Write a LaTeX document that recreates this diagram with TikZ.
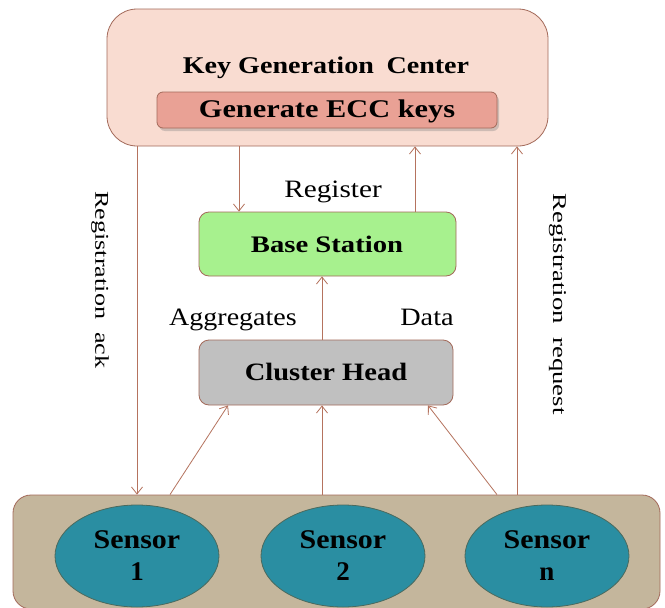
\documentclass[tikz,border=0pt]{standalone}
\usepackage{fontspec}
\setmainfont{Liberation Serif}
\usepackage{graphicx}
\usetikzlibrary{arrows.meta,shapes.geometric,shadows}

\definecolor{kgcfill}{HTML}{F9DCD1}
\definecolor{eccfill}{HTML}{E9A195}
\definecolor{bsfill}{HTML}{A7F18E}
\definecolor{chfill}{HTML}{C0C0C0}
\definecolor{netfill}{HTML}{C4B69C}
\definecolor{sensfill}{HTML}{2A8EA2}
\definecolor{sensdraw}{HTML}{4B6A5E}
\definecolor{edgec}{HTML}{A36A5A}
\definecolor{arrowc}{HTML}{B5735E}

% horizontally widened text
\newcommand{\wtext}[2]{\scalebox{#1}[1]{#2}}

\tikzset{
  box/.style={draw=edgec, line width=0.8pt, inner sep=0pt},
  sensor/.style={ellipse, draw=sensdraw, line width=0.8pt, fill=sensfill,
    minimum width=164pt, minimum height=102pt, inner sep=0pt, align=center,
    font=\fontsize{27}{32}\selectfont\bfseries},
  arr/.style={draw=arrowc, line width=0.8pt,
    -{Straight Barb[length=7pt,width=11pt,line width=0.8pt]}},
  lbl/.style={inner sep=0pt, font=\fontsize{25}{30}\selectfont},
  vlbl/.style={inner sep=0pt, rotate=-90, font=\fontsize{19.5}{22}\selectfont}
}

\begin{document}
\begin{tikzpicture}[x=1pt, y=-1pt]
\useasboundingbox (0,0) rectangle (665,608);
\fill[white] (0,0) rectangle (665,608);

% Key Generation Center
\node[box, fill=kgcfill, rounded corners=30pt, minimum width=441pt, minimum height=137pt]
  (kgc) at (327.5,77.5) {};
\node[inner sep=0pt, anchor=base, font=\fontsize{24}{28}\selectfont\bfseries]
  (kgct) at (326,73) {\wtext{1.17}{Key Generation\hspace{0.45em}Center}};
\node[box, fill=eccfill, rounded corners=6pt, minimum width=340pt, minimum height=36pt,
  drop shadow={shadow xshift=2pt, shadow yshift=-3pt, opacity=0.35}]
  (ecc) at (327,110) {};
\node[inner sep=0pt, anchor=base, font=\fontsize{25.5}{30}\selectfont\bfseries]
  (ecct) at (327,117) {\wtext{1.19}{Generate ECC keys}};

% Base station and cluster head
\node[box, fill=bsfill, rounded corners=10pt, minimum width=257pt, minimum height=64pt]
  (bs) at (327.5,244) {};
\node[inner sep=0pt, anchor=base, font=\fontsize{23.7}{28}\selectfont\bfseries]
  (bst) at (327,252) {\wtext{1.21}{Base Station}};
\node[box, fill=chfill, rounded corners=10pt, minimum width=254pt, minimum height=65pt]
  (ch) at (326,372.5) {};
\node[inner sep=0pt, anchor=base, font=\fontsize{25}{30}\selectfont\bfseries]
  (cht) at (326,380) {\wtext{1.14}{Cluster Head}};

% Sensor field
\node[box, fill=netfill, rounded corners=18pt, minimum width=647pt, minimum height=114pt]
  (net) at (336.5,552) {};
\node[sensor] (s1) at (137,556) {\wtext{1.11}{Sensor}\\1};
\node[sensor] (s2) at (343,556) {\wtext{1.11}{Sensor}\\2};
\node[sensor] (sn) at (547,556) {\wtext{1.11}{Sensor}\\n};

% Connectors
\draw[arr] (137,0 |- kgc.south) -- (137,0 |- net.north);
\draw[arr] (239,0 |- kgc.south) -- (239,0 |- bs.north);
\draw[arr] (415,0 |- bs.north) -- (415,0 |- kgc.south);
\draw[arr] (517,0 |- net.north) -- (517,0 |- kgc.south);
\draw[arr] (322,0 |- ch.north) -- (322,0 |- bs.south);
\draw[arr] (170,0 |- net.north) -- (228,0 |- ch.south);
\draw[arr] (322,0 |- net.north) -- (322,0 |- ch.south);
\draw[arr] (497,0 |- net.north) -- (428,0 |- ch.south);

% Labels
\node[lbl, anchor=base] (lreg) at (333,197) {\wtext{1.17}{Register}};
\node[lbl, anchor=base] (lagg) at (233,325) {\wtext{1.12}{Aggregates}};
\node[lbl, anchor=base] (ldat) at (427,325) {\wtext{1.13}{Data}};
\node[vlbl] (lack) at (100,280) {\wtext{1.34}{Registration\hspace{0.5em}ack}};
\node[vlbl] (lreq) at (558,304) {\wtext{1.37}{Registration\hspace{0.5em}request}};
\end{tikzpicture}
\end{document}
